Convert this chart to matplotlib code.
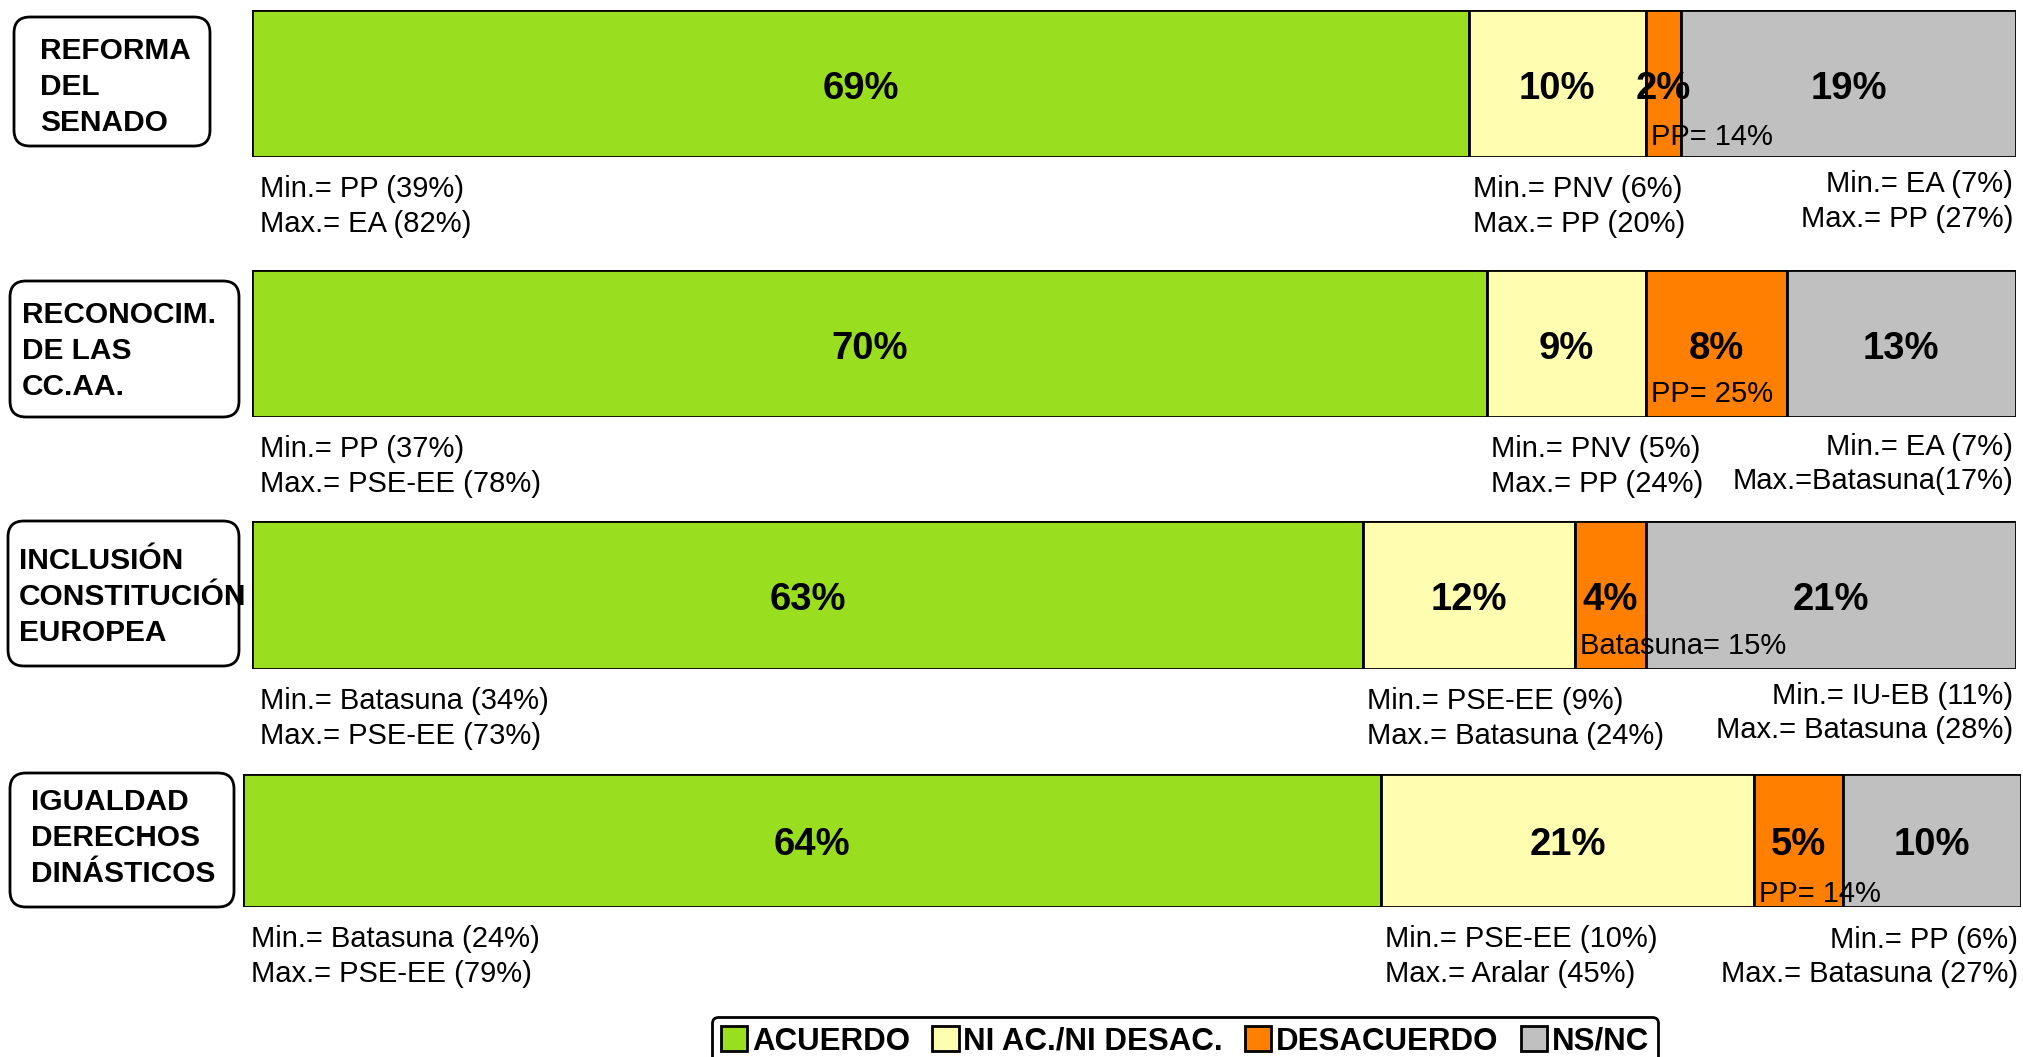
import matplotlib.pyplot as plt
from matplotlib import font_manager
from matplotlib.patches import FancyBboxPatch
from matplotlib.transforms import IdentityTransform

plt.rcParams["figure.dpi"] = 100
plt.rcParams["font.family"] = ["Liberation Sans", "DejaVu Sans"]

temas = ['REFORMA\nDEL\nSENADO', 'RECONOCIM.\nDE LAS\nCC.AA.',
         'INCLUSIÓN\nCONSTITUCIÓN\nEUROPEA', 'IGUALDAD\nDERECHOS\nDINÁSTICOS']
series = ['ACUERDO', 'NI AC./NI DESAC.', 'DESACUERDO', 'NS/NC']
acuerdo = [69, 70, 63, 64]
ni_ni = [10, 9, 12, 21]
desacuerdo = [2, 8, 4, 5]
nsnc = [19, 13, 21, 10]

min_acuerdo = ['Min.= PP (39%)', 'Min.= PP (37%)', 'Min.= Batasuna (34%)', 'Min.= Batasuna (24%)']
max_acuerdo = ['Max.= EA (82%)', 'Max.= PSE-EE (78%)', 'Max.= PSE-EE (73%)', 'Max.= PSE-EE (79%)']
min_ni = ['Min.= PNV (6%)', 'Min.= PNV (5%)', 'Min.= PSE-EE (9%)', 'Min.= PSE-EE (10%)']
max_ni = ['Max.= PP (20%)', 'Max.= PP (24%)', 'Max.= Batasuna (24%)', 'Max.= Aralar (45%)']
min_nsnc = ['Min.= EA (7%)', 'Min.= EA (7%)', 'Min.= IU-EB (11%)', 'Min.= PP (6%)']
max_nsnc = ['Max.= PP (27%)', 'Max.=Batasuna(17%)', 'Max.= Batasuna (28%)', 'Max.= Batasuna (27%)']
max_desac = ['PP= 14%', 'PP= 25%', 'Batasuna= 15%', 'PP= 14%']

colors = ['#9ADF1F', '#FFFDB0', '#FF8000', '#C0C0C0']

W, H = 2024, 1057

# narrow bold font for the percentages if available
names = {f.name for f in font_manager.fontManager.ttflist}
if 'Liberation Sans Narrow' in names:
    narrow = dict(family='Liberation Sans Narrow', weight='bold')
    pct_size, leg_size = 32, 25
else:
    narrow = dict(family='Liberation Sans', weight='bold')
    pct_size, leg_size = 27.5, 22.5

# bar rectangles in pixels: left, top, right, bottom
bar_px = [(252, 10, 2016, 157), (252, 270, 2016, 417),
          (252, 521, 2016, 669), (243, 774, 2021, 907)]
# label boxes in pixels: left, top, right, bottom, text x, text centre y
box_px = [(14, 17, 210, 146, 40, 87), (10, 281, 239, 417, 22, 351),
          (8, 521, 239, 666, 19, 597), (10, 773, 234, 907, 31, 838)]
dy_right = [(27, 62), (30, 64), (27, 61), (33, 67)]
dy_desac = [20, 23, 23, 13]

fig = plt.figure(figsize=(W / 100, H / 100), dpi=100)

handles = []
for i in range(4):
    l, t, r, b = bar_px[i]
    ax = fig.add_axes([l / W, 1 - b / H, (r - l) / W, (b - t) / H])
    vals = [acuerdo[i], ni_ni[i], desacuerdo[i], nsnc[i]]
    left = 0
    for j, v in enumerate(vals):
        bar = ax.barh(0, v, left=left, height=1, color=colors[j],
                      edgecolor='black', linewidth=2)
        if i == 0:
            handles.append(bar)
        ax.text(left + v / 2, -0.035, f'{v}%', ha='center', va='center',
                fontsize=pct_size, **narrow)
        left += v
    ax.set_xlim(0, 100)
    ax.set_ylim(-0.5, 0.5)
    ax.axis('off')

    tr = ax.get_xaxis_transform()
    fs = 21
    ax.annotate(min_acuerdo[i], (0, 0), xycoords=tr, xytext=(8, -32),
                textcoords='offset pixels', va='center', fontsize=fs)
    ax.annotate(max_acuerdo[i], (0, 0), xycoords=tr, xytext=(8, -67),
                textcoords='offset pixels', va='center', fontsize=fs)
    ax.annotate(min_ni[i], (acuerdo[i], 0), xycoords=tr, xytext=(4, -32),
                textcoords='offset pixels', va='center', fontsize=fs)
    ax.annotate(max_ni[i], (acuerdo[i], 0), xycoords=tr, xytext=(4, -67),
                textcoords='offset pixels', va='center', fontsize=fs)
    ax.annotate(min_nsnc[i], (100, 0), xycoords=tr, xytext=(-3, -dy_right[i][0]),
                textcoords='offset pixels', va='center', ha='right', fontsize=fs)
    ax.annotate(max_nsnc[i], (100, 0), xycoords=tr, xytext=(-3, -dy_right[i][1]),
                textcoords='offset pixels', va='center', ha='right', fontsize=fs)
    ax.annotate(max_desac[i], (acuerdo[i] + ni_ni[i], 0), xycoords=tr,
                xytext=(5, dy_desac[i]), textcoords='offset pixels',
                va='center', fontsize=fs, annotation_clip=False)

    # rounded label box on the left
    bl, bt, br, bb, tx, ty = box_px[i]
    box = FancyBboxPatch((bl, H - bb), br - bl, bb - bt,
                         boxstyle='round,pad=0,rounding_size=16',
                         transform=IdentityTransform(), facecolor='white',
                         edgecolor='black', linewidth=2)
    fig.add_artist(box)
    fig.text(tx / W, 1 - ty / H, temas[i], ha='left', va='center',
             fontsize=21.5, fontweight='bold', linespacing=1.38)

leg = fig.legend(handles, series, loc='upper center', ncol=4,
                 bbox_to_anchor=(1185 / W, 1 - 1017 / H), frameon=True,
                 fancybox=True, edgecolor='black', framealpha=1,
                 prop=dict(size=leg_size, **narrow), handlelength=0.85,
                 handleheight=0.85, handletextpad=0.15, columnspacing=0.7,
                 borderpad=0.3, borderaxespad=0)
leg.get_frame().set_linewidth(2)

fig.savefig('out.png', dpi=100)
